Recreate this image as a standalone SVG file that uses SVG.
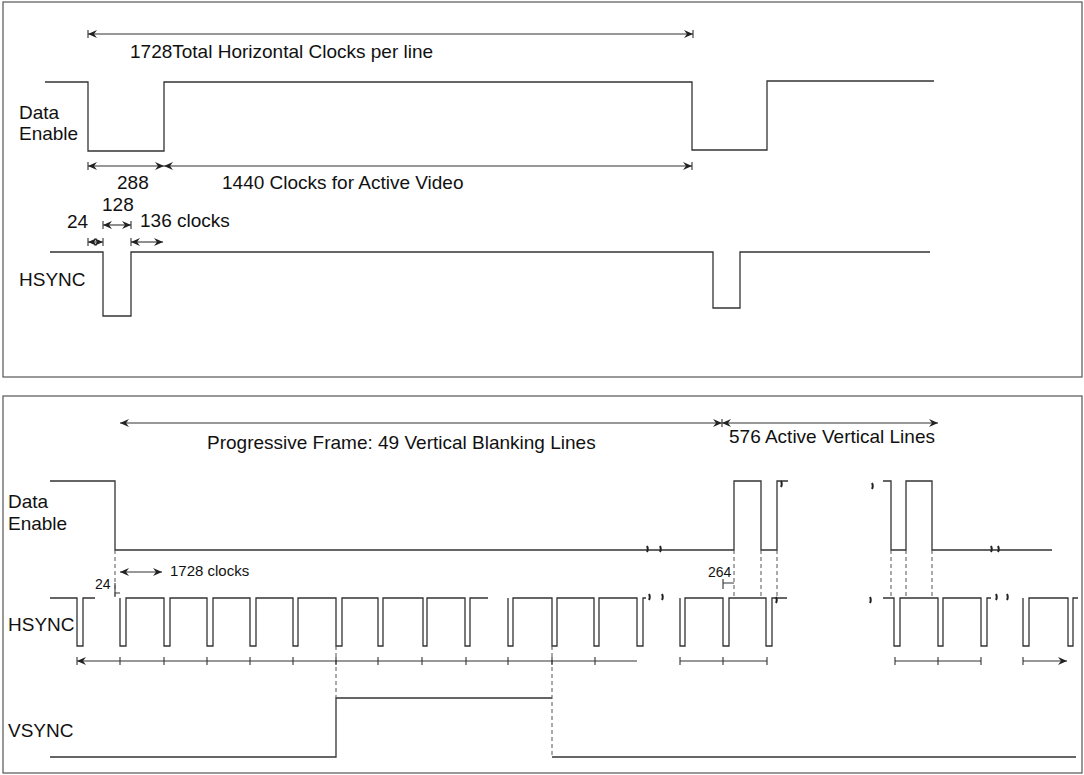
<svg xmlns="http://www.w3.org/2000/svg" width="1084" height="775" viewBox="0 0 1084 775">
<style>
  text { font-family: "Liberation Sans", Arial, sans-serif; fill: #111; }
  .lbl { font-size: 19px; }
  .sm { font-size: 15px; }
  .xs { font-size: 14px; }
  .frame { fill: none; stroke: #555; stroke-width: 1.2; }
  .wave { fill: none; stroke: #333; stroke-width: 1.3; }
  .dim { fill: none; stroke: #333; stroke-width: 1.1; marker-start: url(#ah); marker-end: url(#ah); }
  .tick { fill: none; stroke: #333; stroke-width: 1.1; }
  .guide { fill: none; stroke: #555; stroke-width: 1; stroke-dasharray: 4 3; }
  .brk { fill: none; stroke: #222; stroke-width: 2; }
</style>
<defs>
  <marker id="ah" viewBox="0 0 9 9" refX="9" refY="4.5" markerWidth="9" markerHeight="9" markerUnits="userSpaceOnUse" orient="auto-start-reverse">
    <path d="M0,0.5 L9,4.5 L0,8.5 L3,4.5 z" fill="#222"/>
  </marker>
</defs>

<!-- ===== Top panel ===== -->
<g id="panel-top">
  <rect class="frame" x="3" y="2" width="1079" height="375"/>
</g>

<g id="top-labels">
  <text class="lbl" x="19" y="119">Data</text>
  <text class="lbl" x="19" y="140">Enable</text>
  <text class="lbl" x="19" y="286">HSYNC</text>
  <text class="lbl" x="130" y="58">1728Total Horizontal Clocks per line</text>
  <text class="lbl" x="117" y="189">288</text>
  <text class="lbl" x="222" y="189">1440 Clocks for Active Video</text>
  <text class="lbl" x="102" y="211">128</text>
  <text class="lbl" x="67" y="228">24</text>
  <text class="lbl" x="140" y="227">136 clocks</text>
</g>

<g id="top-de-wave">
  <path class="wave" d="M45,82 H88 V151 H164 V82 H692 V150 H767 V81 H934"/>
</g>

<g id="top-hsync-wave">
  <path class="wave" d="M50,252 H103 V316 H131 V252 H713 V308 H740 V252 H930"/>
</g>

<g id="top-connectors">
  <path class="dim" d="M88,34 H693"/>
  <path class="tick" d="M88,30 V38 M693,30 V38"/>
  <path class="dim" d="M88,166 H164"/>
  <path class="dim" d="M164,166 H692"/>
  <path class="tick" d="M88,162 V170 M692,162 V170"/>
  <path class="dim" d="M103,225 H131"/>
  <path class="tick" d="M103,221 V229 M131,221 V229"/>
  <path class="dim" d="M88,242 H103"/>
  <path class="tick" d="M88,238 V246 M103,238 V246"/>
  <path class="dim" d="M131,242 H163"/>
  <path class="tick" d="M131,238 V246"/>
</g>

<!-- ===== Bottom panel ===== -->
<g id="panel-bottom">
  <rect class="frame" x="3" y="396" width="1079" height="377"/>
</g>

<g id="bottom-labels">
  <text class="lbl" x="8" y="508">Data</text>
  <text class="lbl" x="8" y="530">Enable</text>
  <text class="lbl" x="8" y="631">HSYNC</text>
  <text class="lbl" x="8" y="737">VSYNC</text>
  <text class="lbl" x="207" y="449">Progressive Frame: 49 Vertical Blanking Lines</text>
  <text class="lbl" x="729" y="443">576 Active Vertical Lines</text>
  <text class="sm" x="170" y="576">1728 clocks</text>
  <text class="xs" x="95" y="589">24</text>
  <text class="xs" x="708" y="577">264</text>
</g>

<g id="bottom-de-wave">
  <path class="wave" d="M50,481 H115 V550 H734 V481 H761 V550 H777 V481 H788"/>
  <path class="wave" d="M883,481 H891 V550 H906 V481 H932 V550 H1052"/>
  <path class="brk" d="M647,546 q1.5,3 0,6 M660,546 q1.5,3 0,6 M781,481 q1.5,3 0,6 M872,483 q1.5,3 0,6 M991,546 q1.5,3 0,6 M998,546 q1.5,3 0,6"/>
</g>

<g id="bottom-hsync-wave">
  <path class="wave" d="M50,598 H77 V646 H83 V598 H95"/>
  <path class="wave" d="M120,598 V646 H126 V598 H164 V646 H170 V598 H207 V646 H213 V598 H250 V646 H256 V598 H293 V646 H298 V598 H336 V646 H342 V598 H378 V646 H383 V598 H423 V646 H427 V598 H465 V646 H470 V598 H488"/>
  <path class="wave" d="M508,598 V646 H513 V598 H552 V646 H557 V598 H594 V646 H599 V598 H637 V646 H643 V598 H646"/>
  <path class="wave" d="M680,598 V646 H685 V598 H723 V646 H729 V598 H766 V646 H772 V598 H787"/>
  <path class="wave" d="M883,598 H894 V646 H900 V598 H938 V646 H943 V598 H981 V646 H987 V598 H991"/>
  <path class="wave" d="M1023,598 V646 H1029 V598 H1068 V646 H1073 V598 H1078"/>
  <path class="brk" d="M649,594 q1.5,3 0,6 M662,594 q1.5,3 0,6 M776,597 q1.5,3 0,6 M870,597 q1.5,3 0,6 M996,594 q1.5,3 0,6 M1007,594 q1.5,3 0,6"/>
</g>

<g id="bottom-vsync-wave">
  <path class="wave" d="M50,757 H336 V698 H552"/>
  <path class="wave" d="M552,757 H1076"/>
</g>

<g id="bottom-connectors">
  <path class="dim" d="M120,423 H722"/>
  <path class="dim" d="M722,423 H938"/>
  <path class="tick" d="M722,419 V427"/>
  <path class="dim" d="M120,572 H162"/>
  <path class="tick" d="M115,583 V597 M115,593 H120"/>
  <path class="tick" d="M723,579 V589 M723,583 H734"/>
  <path class="guide" d="M115,550 V597 M734,550 V597 M761,550 V597 M777,550 V597 M891,550 V597 M906,550 V597 M932,550 V597 M336,646 V698 M552,646 V757"/>
  <path class="dim" d="M77,661 H120 M120,661 H164 M164,661 H207 M207,661 H250 M250,661 H293 M293,661 H336 M336,661 H378 M378,661 H422 M422,661 H466 M466,661 H508 M508,661 H552 M552,661 H595 M595,661 H637 M680,661 H723 M723,661 H767 M895,661 H938 M938,661 H981 M1023,661 H1067"/>
  <path class="tick" d="M77,657 V665 M120,657 V665 M164,657 V665 M207,657 V665 M250,657 V665 M293,657 V665 M336,657 V665 M378,657 V665 M422,657 V665 M466,657 V665 M508,657 V665 M552,657 V665 M595,657 V665 M680,657 V665 M723,657 V665 M767,657 V665 M895,657 V665 M938,657 V665 M981,657 V665 M1023,657 V665"/>
</g>
</svg>
